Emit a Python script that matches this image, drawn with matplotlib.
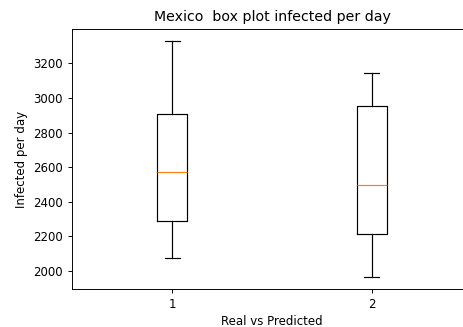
import matplotlib
matplotlib.use("Agg")
import matplotlib.pyplot as plt

# Summary statistics for the two series (real vs predicted daily infections)
labels = ["1", "2"]
whisker_low = [2075, 1963]
q1 = [2290, 2213]
median = [2570, 2497]
q3 = [2909, 2956]
whisker_high = [3331, 3145]

title = "Mexico  box plot infected per day"
xlabel = "Real vs Predicted"
ylabel = "Infected per day"

stats = [
    dict(label=labels[i], whislo=whisker_low[i], q1=q1[i], med=median[i],
         q3=q3[i], whishi=whisker_high[i], fliers=[])
    for i in range(len(labels))
]

fig = plt.figure(figsize=(4.64, 3.27), dpi=100)
# axes frame reaches the right edge of the canvas (x from 0.5 to 2.46 shown)
ax = fig.add_axes([72 / 464, 1 - 289 / 327, 392 / 464, 260 / 327])

lw = 0.85
ax.bxp(stats, positions=[1, 2], widths=0.15, showfliers=False,
       boxprops=dict(linewidth=lw, color="black"),
       whiskerprops=dict(linewidth=lw, color="black"),
       capprops=dict(linewidth=lw, color="black"),
       medianprops=dict(linewidth=lw, color="#ff7f0e"))

ax.set_xlim(0.5, 2.46)
ax.set_title(title, fontsize=10.2, x=200 / 392)
ax.set_xlabel(xlabel, fontsize=8.5)
ax.xaxis.set_label_coords(200 / 392, -0.1)
ax.set_ylabel(ylabel, fontsize=8.5)
ax.tick_params(labelsize=8.5, length=3, width=0.68)
for sp in ax.spines.values():
    sp.set_linewidth(0.68)
ax.spines["right"].set_visible(False)

fig.savefig("out.png", dpi=100)
